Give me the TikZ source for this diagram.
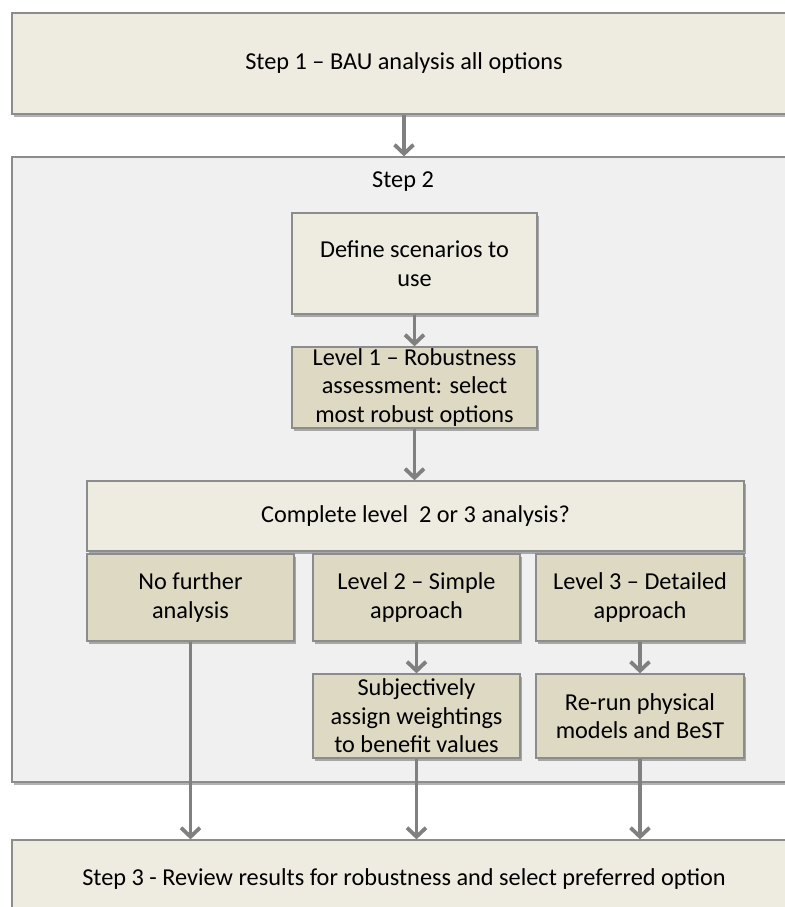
\documentclass[tikz,border=0pt]{standalone}
\usepackage{fontspec}
\setmainfont{Carlito}
\usetikzlibrary{arrows.meta}
\usetikzlibrary{shadows}
\usetikzlibrary{positioning}
\usepackage{xcolor}

\definecolor{boxlight}{HTML}{EEECE1}
\definecolor{boxdark}{HTML}{DDD9C3}
\definecolor{panelgray}{HTML}{F0F0F0}
\definecolor{edgegray}{HTML}{8C8C8C}
\definecolor{flowgray}{HTML}{808080}

\tikzset{
    stepbox/.style={draw=edgegray, line width=1.3pt, fill=boxlight, align=center, inner sep=0pt,
        font=\fontsize{24.3}{28.5}\selectfont,
        drop shadow={shadow xshift=1.5pt, shadow yshift=-3pt, opacity=0.3, fill=black}},
    levelbox/.style={stepbox, fill=boxdark},
    flow/.style={draw=flowgray, line width=3.8pt, -{Straight Barb[length=9pt, width=19pt]}}
}

\begin{document}
\begin{tikzpicture}[x=1pt, y=-1pt]
    \useasboundingbox (0,0) rectangle (784,907);

    % 1. Outer steps
    \node[stepbox, minimum width=784pt, minimum height=101pt] (step1) at (404,63.5) {Step 1 – BAU analysis all options};
    \node[stepbox, fill=panelgray, minimum width=784pt, minimum height=625pt] (panel) at (404,469.5) {};
    \node[font=\fontsize{24.3}{28.5}\selectfont] (steptwo) at (403,182) {Step 2};
    \node[stepbox, minimum width=784pt, minimum height=80pt] (step3) at (404,880) {\raisebox{6pt}{Step 3 - Review results for robustness and select preferred option}};

    % 2. Boxes inside step 2
    \node[stepbox, minimum width=245pt, minimum height=101pt] (define) at (414.5,263.5) {Define scenarios to\\use};
    \node[levelbox, minimum width=245pt, minimum height=81pt] (level1) at (414.5,387.5) {Level 1 – Robustness\\assessment: select\\most robust options};
    \node[stepbox, minimum width=657pt, minimum height=70pt] (complete) at (415.5,516) {Complete level\ \ 2 or 3 analysis?};

    % 3. The three routes
    \node[levelbox, minimum width=207pt, minimum height=87pt] (nofurther) at (190.5,597.5) {No further\\analysis};
    \node[levelbox, minimum width=207pt, minimum height=87pt] (level2) at (416.5,597.5) {Level 2 – Simple\\approach};
    \node[levelbox, minimum width=208pt, minimum height=87pt] (level3) at (640,597.5) {Level 3 – Detailed\\approach};
    \node[levelbox, minimum width=207pt, minimum height=84pt] (weights) at (416.5,716) {Subjectively\\assign weightings\\to benefit values};
    \node[levelbox, minimum width=208pt, minimum height=84pt] (rerun) at (640,716) {Re-run physical\\models and BeST};

    % 4. Arrows
    \draw[flow] (step1.south) -- (panel.north);
    \draw[flow] (define.south) -- (level1.north);
    \draw[flow] (level1.south) -- (level1.south |- complete.north);
    \draw[flow] (level2.south) -- (weights.north);
    \draw[flow] (level3.south) -- (rerun.north);
    \draw[flow] (nofurther.south) -- (nofurther.south |- step3.north);
    \draw[flow] (weights.south) -- (weights.south |- step3.north);
    \draw[flow] (rerun.south) -- (rerun.south |- step3.north);
\end{tikzpicture}
\end{document}
